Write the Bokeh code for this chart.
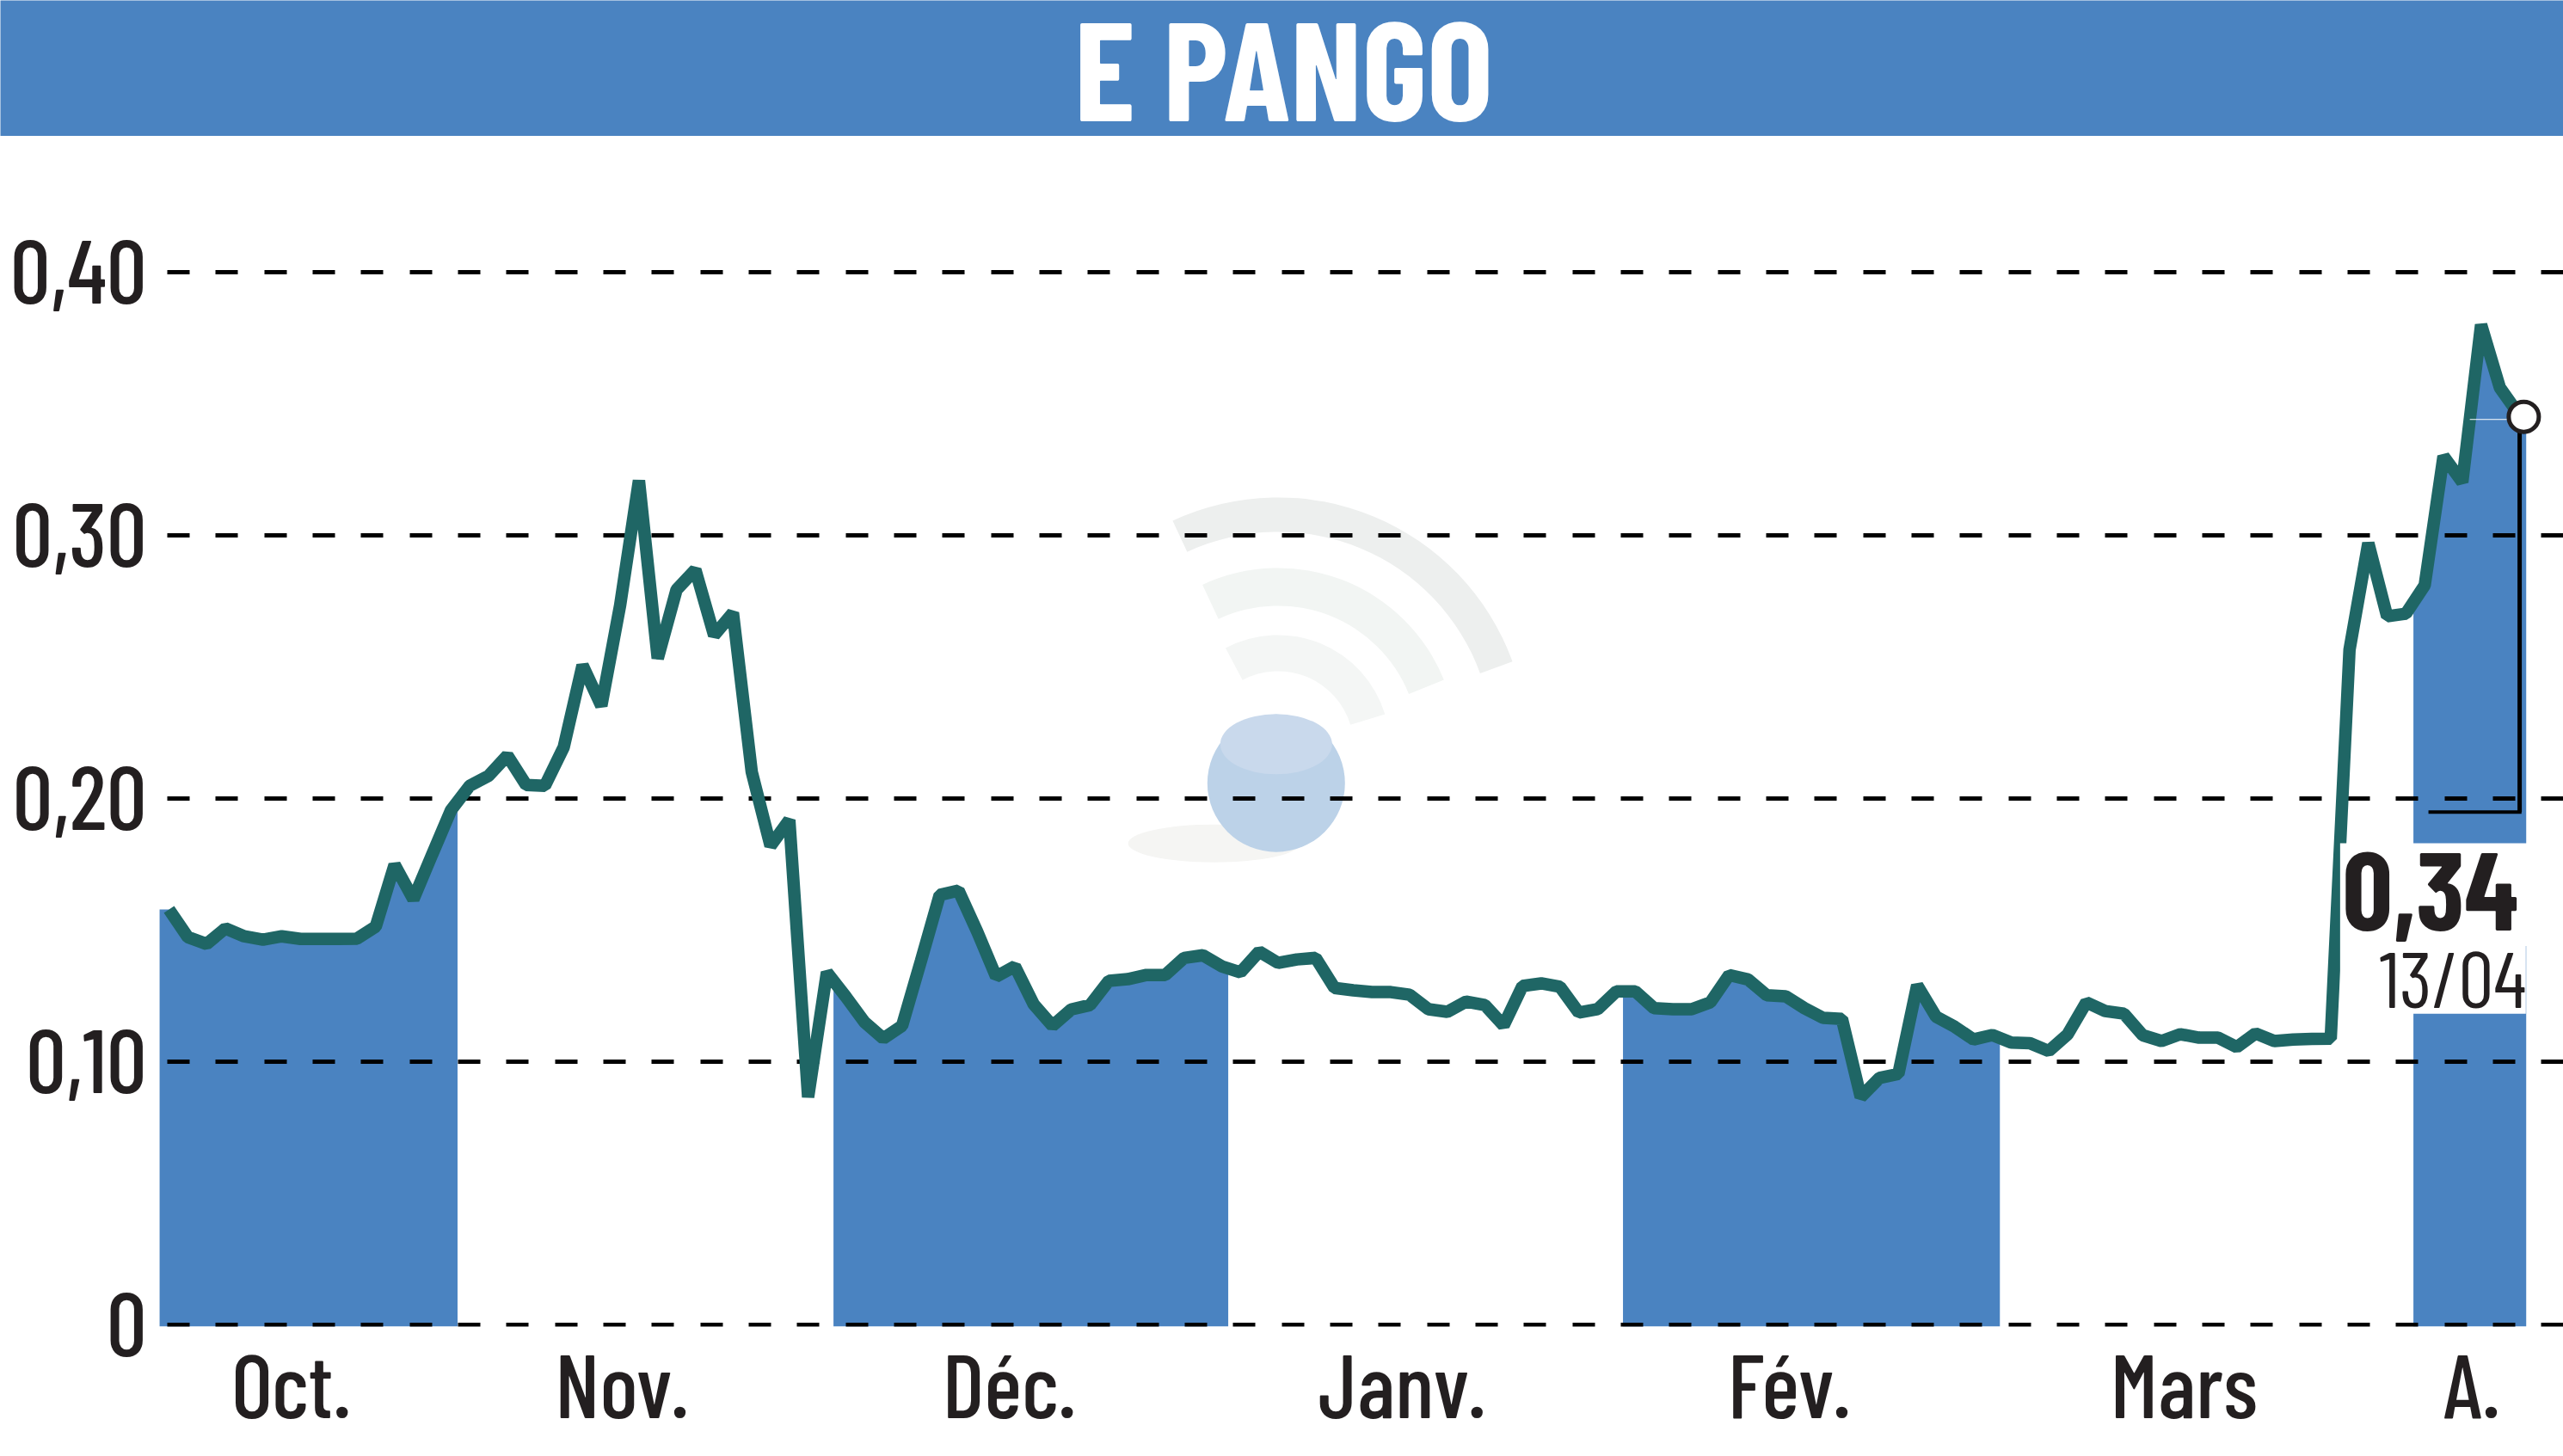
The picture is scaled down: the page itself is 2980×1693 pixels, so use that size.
import numpy as np
from bokeh.embed import file_html
from bokeh.layouts import column
from bokeh.models import FixedTicker, Label, Range1d
from bokeh.plotting import figure
from bokeh.resources import INLINE

TITLE = "E PANGO"
LAST_VALUE = "0,34"
LAST_DATE = "13/04"

values = [
    .1577, .1472, .1446, .1505, .1475, .1462, .1475, .1465, .1465, .1465, .1466, .1512, .1747, .1616,
    .1786, .1954, .2047, .2085, .2162, .2050, .2047, .2194, .2505, .2351, .2733, .3207, .2531, .2792,
    .2868, .2619, .2704, .2100, .1819, .1917, .0864, .1338, .1246, .1149, .1087, .1135, .1381, .1632,
    .1649, .1492, .1322, .1361, .1217, .1135, .1197, .1214, .1306, .1312, .1328, .1328, .1393, .1403,
    .1361, .1338, .1417, .1374, .1387, .1393, .1279, .1270, .1263, .1263, .1253, .1198, .1188, .1227,
    .1214, .1136, .1286, .1296, .1283, .1185, .1198, .1266, .1266, .1202, .1198, .1198, .1224, .1328,
    .1311, .1251, .1247, .1202, .1165, .1161, .0864, .0937, .0952, .1289, .1170, .1131, .1083, .1100,
    .1071, .1069, .1039, .1102, .1224, .1191, .1181, .1099, .1077, .1103, .1090, .1090, .1054, .1106,
    .1077, .1083, .1085, .1086, .2564, .2969, .2691, .2701, .2809, .3299, .3201, .3799, .3560, .3459,
]
sessions = list(range(len(values)))

month_labels = ["Oct.", "Nov.", "Déc.", "Janv.", "Fév.", "Mars", "A."]
month_label_pos = [6.5, 24.1, 44.7, 65.6, 86.2, 107.2, 122.5]
month_edges = [-0.5, 15.35, 35.35, 56.35, 77.35, 97.4, 119.4, 125.4]
shaded_months = [0, 2, 4, 6]

y_ticks = [0, 0.1, 0.2, 0.3, 0.4]
y_tick_labels = ["0", "0,10", "0,20", "0,30", "0,40"]

BLUE = "#4a83c1"
TEAL = "#1f6665"
INK = "#231f20"
NARROW = "Barlow Condensed"
NARROW_MED = "Barlow Condensed Medium"

X_RANGE = (-0.549, 127.38)
Y_RANGE = (-0.0008, 0.4515)

# header band
head = figure(width=2980, height=158, output_backend="svg", toolbar_location=None,
              x_range=Range1d(0, 2980), y_range=Range1d(0, 158), x_axis_location=None, y_axis_location=None,
              min_border=0, outline_line_color=None, background_fill_color=BLUE, border_fill_color=BLUE,
              frame_align=False)
head.grid.visible = False
head.add_layout(Label(x=1492, y=83, text=TITLE, text_font=NARROW, text_font_style="bold",
                      text_font_size="162px", text_color="white", text_align="center", text_baseline="middle"))

p = figure(width=2980, height=1535, output_backend="svg", toolbar_location=None,
           x_range=Range1d(*X_RANGE), y_range=Range1d(*Y_RANGE),
           min_border_left=184, min_border_right=0, min_border_top=0, min_border_bottom=151,
           outline_line_color=None, background_fill_color="white", border_fill_color="white",
           frame_align=False)

# axes
p.xaxis.ticker = FixedTicker(ticks=month_label_pos)
p.xaxis.major_label_overrides = dict(zip(month_label_pos, month_labels))
p.yaxis.ticker = FixedTicker(ticks=y_ticks)
p.yaxis.major_label_overrides = dict(zip(y_ticks, y_tick_labels))
for ax in (p.xaxis, p.yaxis):
    ax.axis_line_color = None
    ax.major_tick_line_color = None
    ax.minor_tick_line_color = None
    ax.major_label_text_font = NARROW_MED
    ax.major_label_text_font_size = "104px"
    ax.major_label_text_color = INK
p.xaxis.major_label_standoff = -4
p.yaxis.major_label_standoff = 8
p.xgrid.visible = False
p.ygrid.ticker = FixedTicker(ticks=y_ticks)
p.ygrid.grid_line_color = "black"
p.ygrid.grid_line_width = 5
p.ygrid.grid_line_dash = [26, 30, 26, 30, 26, 31]
p.ygrid.grid_line_dash_offset = 46
p.ygrid.level = "underlay"

# faded logo behind the chart
arc_cx, arc_cy = 59.0, 0.2195
for r_in, r_out, a0, a1, col in [(250, 290, 20, 115, "#edefee"), (164, 208, 22, 115, "#f2f5f3"), (88, 130, 17, 118, "#f4f6f5")]:
    p.annular_wedge([arc_cx], [arc_cy], inner_radius=r_in, outer_radius=r_out, start_angle=a0, end_angle=a1,
                    start_angle_units="deg", end_angle_units="deg",
                    inner_radius_units="screen", outer_radius_units="screen",
                    fill_color=col, line_color=None, level="image")
p.ellipse([55.6], [0.1828], width=200, height=44, width_units="screen", height_units="screen",
          fill_color="#f5f5f3", line_color=None, level="image")
p.ellipse([58.9], [0.2057], width=160, height=160, width_units="screen", height_units="screen",
          fill_color="#bcd2e8", line_color=None, level="image")
p.ellipse([58.9], [0.2205], width=130, height=70, width_units="screen", height_units="screen",
          fill_color="#c9d9ec", line_color=None, level="image")

# shaded alternate months
xs = np.array(sessions, dtype=float)
ys = np.array(values)
for m in shaded_months:
    a, b = month_edges[m], month_edges[m + 1]
    inner = (xs > a) & (xs < b)
    bx = np.concatenate(([a], xs[inner], [b]))
    by = np.concatenate(([np.interp(a, xs, ys)], ys[inner], [np.interp(b, xs, ys)]))
    p.varea(bx, Y_RANGE[0], by, fill_color=BLUE, level="image")

# price line
p.line(sessions, values, line_color=TEAL, line_width=14.5, line_join="bevel", level="glyph")

# blanking box behind the last value
p.quad(left=[115.5, 115.5], right=[125.66, 125.38], top=[0.1829, 0.1438], bottom=[0.1438, 0.1181],
       fill_color="white", line_color=None, level="guide")

# last value callout
CALLOUT_X = 125.05
CALLOUT_LEFT = 120.2
CALLOUT_Y = 0.1947
LAST_Y = 0.3449
p.segment([CALLOUT_X], [LAST_Y], [CALLOUT_X], [CALLOUT_Y], line_color="black", line_width=5, level="annotation")
p.segment([CALLOUT_LEFT], [CALLOUT_Y], [CALLOUT_X + 0.1], [CALLOUT_Y], line_color="black", line_width=4, level="annotation")
p.segment([122.4], [LAST_Y - 0.001], [124.4], [LAST_Y - 0.001], line_color="white", line_width=1, level="annotation")
p.scatter([125.27], [LAST_Y], marker="circle", size=35, fill_color="white", line_color=INK, line_width=5, level="annotation")

p.add_layout(Label(x=120.3, y=0.1645, text=LAST_VALUE, text_font=NARROW, text_font_style="bold",
                   text_font_size="129px", text_color=INK, text_align="center", text_baseline="middle", level="overlay"))
p.add_layout(Label(x=121.5, y=0.1325, text=LAST_DATE, text_font=NARROW,
                   text_font_size="92px", text_color=INK, text_align="center", text_baseline="middle", level="overlay"))

page = column(head, p, spacing=0)
open("out.html", "w").write(file_html(page, INLINE))
